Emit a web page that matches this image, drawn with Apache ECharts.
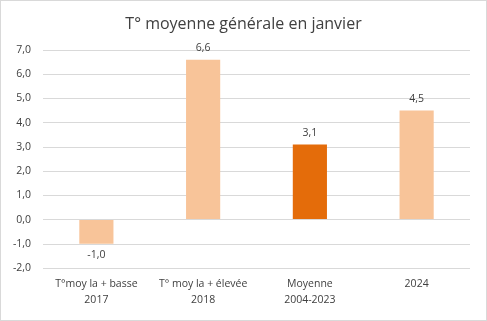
<!DOCTYPE html>
<html><head><meta charset="utf-8">
<script src="https://cdn.jsdelivr.net/npm/echarts@6/dist/echarts.min.js"></script>
<style>html,body{margin:0;padding:0;background:#fff}#c{width:487px;height:321px;box-sizing:border-box;border:1px solid #d9d9d9}</style>
</head><body><div id="c"></div>
<script>
const categories = ['T°moy la + basse\n2017', 'T° moy la + élevée\n2018', 'Moyenne\n2004-2023', '2024'];
const values = [-1.0, 6.6, 3.1, 4.5];
const barColors = ['#F8C499', '#F8C499', '#E46C0A', '#F8C499'];
const chart = echarts.init(document.getElementById('c'));
chart.setOption({
  animation: false,
  title: { text: 'T° moyenne générale en janvier', left: 'center', top: 10,
    textStyle: { fontFamily: 'Open Sans', fontSize: 16, fontWeight: 'normal', color: '#404040' } },
  grid: { left: 42, right: 16, top: 49, bottom: 52 },
  xAxis: { type: 'category', data: categories,
    axisLine: { show: false }, axisTick: { show: false },
    axisLabel: { interval: 0, fontFamily: 'Open Sans', fontSize: 10.5, color: '#404040', lineHeight: 16, margin: 8 } },
  yAxis: { type: 'value', min: -2, max: 7, interval: 1,
    axisLabel: { fontFamily: 'Open Sans', fontSize: 10.5, color: '#404040', margin: 12,
      formatter: v => v.toFixed(1).replace('.', ',') },
    splitLine: { lineStyle: { color: '#d9d9d9' } } },
  series: [{ type: 'bar', barWidth: '32%',
    data: values.map((v, i) => ({ value: v, itemStyle: { color: barColors[i] } })),
    label: { show: true, position: 'outside', fontFamily: 'Open Sans', fontSize: 10.5, color: '#404040', distance: 6,
      formatter: p => p.value.toFixed(1).replace('.', ',') },
    markLine: { silent: true, symbol: 'none', label: { show: false },
      lineStyle: { color: '#d9d9d9', type: 'solid', width: 1 }, data: [{ yAxis: 0 }] } }]
});
</script></body></html>
